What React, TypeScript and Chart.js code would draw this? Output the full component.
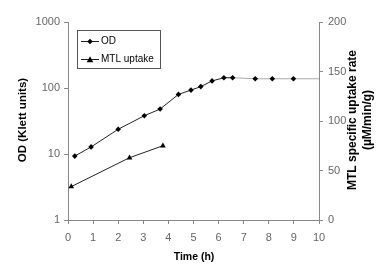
import React, { useEffect, useRef } from "react";
import { Chart, registerables } from "chart.js";

Chart.register(...registerables);

const odTime = [0.27, 0.92, 2.0, 3.04, 3.67, 4.4, 4.9, 5.29, 5.74, 6.21, 6.56, 7.46, 8.14, 8.98, 10];
const odValue = [9.3, 12.8, 23.7, 38, 48, 80, 93, 105, 128, 143, 143, 138, 138, 138, 138];
const mtlTime = [0.13, 2.45, 3.78];
const mtlValue = [33.7, 62.9, 75];
const xTicks = [0, 1, 2, 3, 4, 5, 6, 7, 8, 9, 10];
const odTicks = [1, 10, 100, 1000];
const mtlTicks = [0, 50, 100, 150, 200];

const FONT = "'Liberation Sans', Arial, sans-serif";

function drawMarker(ctx: CanvasRenderingContext2D, style: string, x: number, y: number, r: number) {
  ctx.beginPath();
  if (style === "rectRot") {
    ctx.moveTo(x, y - r);
    ctx.lineTo(x + r, y);
    ctx.lineTo(x, y + r);
    ctx.lineTo(x - r, y);
  } else {
    ctx.moveTo(x, y - r);
    ctx.lineTo(x + r, y + r * 0.8);
    ctx.lineTo(x - r, y + r * 0.8);
  }
  ctx.closePath();
  ctx.fill();
}

const overlayPlugin = {
  id: "overlay",
  afterDraw(chart: any) {
    const ctx = chart.ctx as CanvasRenderingContext2D;
    ctx.save();
    ctx.fillStyle = "#000";
    ctx.textAlign = "center";
    ctx.textBaseline = "middle";
    ctx.font = `bold 10.5px ${FONT}`;
    ctx.fillText("Time (h)", 194, 257);

    ctx.save();
    ctx.translate(23, 120);
    ctx.rotate(-Math.PI / 2);
    ctx.font = `bold 11.5px ${FONT}`;
    ctx.fillText("OD (Klett units)", 0, 0);
    ctx.restore();

    ctx.save();
    ctx.translate(353, 120);
    ctx.rotate(-Math.PI / 2);
    ctx.font = `bold 12px ${FONT}`;
    ctx.fillText("MTL specific uptake rate", 0, 0);
    ctx.fillText("(\u00b5M/min/g)", 0, 15);
    ctx.restore();

    const bx = 77, by = 30, bw = 83, bh = 38;
    ctx.fillStyle = "#fff";
    ctx.fillRect(bx, by, bw, bh);
    ctx.strokeStyle = "#555";
    ctx.lineWidth = 1;
    ctx.strokeRect(bx + 0.5, by + 0.5, bw, bh);
    const entries = [
      { label: "OD", y: 41.5, style: "rectRot", r: 2.8 },
      { label: "MTL uptake", y: 59.5, style: "triangle", r: 3.3 },
    ];
    entries.forEach((e) => {
      ctx.strokeStyle = "#222";
      ctx.beginPath();
      ctx.moveTo(81, e.y);
      ctx.lineTo(99, e.y);
      ctx.stroke();
      ctx.fillStyle = "#000";
      drawMarker(ctx, e.style, 90, e.y, e.r);
      ctx.fillStyle = "#000";
      ctx.textAlign = "left";
      ctx.textBaseline = "middle";
      ctx.font = `10px ${FONT}`;
      ctx.fillText(e.label, 101, e.y);
    });
    ctx.restore();
  },
};

export default function App() {
  const ref = useRef<HTMLCanvasElement>(null);
  useEffect(() => {
    if (!ref.current) return;
    const tickFont = { family: FONT, size: 11 };
    const grid = { drawOnChartArea: false, drawTicks: true, tickLength: 4, color: "#888" };
    const border = { color: "#888", width: 1 };
    const chart = new Chart(ref.current, {
      type: "line",
      data: {
        datasets: [
          {
            label: "OD",
            data: odTime.map((t, i) => ({ x: t, y: odValue[i] })),
            yAxisID: "y",
            borderColor: "#222",
            backgroundColor: "#000",
            borderWidth: 1,
            pointStyle: "rectRot",
            pointRadius: odTime.map((t) => (t >= 10 ? 0 : 2.8)),
            pointBorderWidth: 0,
            segment: {
              borderColor: (c: any) => (c.p0.parsed.x >= 6.5 ? "#aaa" : "#222"),
            },
          },
          {
            label: "MTL uptake",
            data: mtlTime.map((t, i) => ({ x: t, y: mtlValue[i] })),
            yAxisID: "y2",
            borderColor: "#222",
            backgroundColor: "#000",
            borderWidth: 1,
            pointStyle: "triangle",
            pointRadius: 3.3,
            pointBorderWidth: 0,
          },
        ],
      },
      options: {
        animation: false,
        responsive: false,
        layout: { padding: { top: 22, left: 0, right: 0, bottom: 0 } },
        plugins: { legend: { display: false }, tooltip: { enabled: false } },
        scales: {
          x: {
            type: "linear",
            min: 0,
            max: 10,
            afterBuildTicks: (s: any) => {
              s.ticks = xTicks.map((v) => ({ value: v }));
            },
            afterFit: (s: any) => {
              s.height = 53;
            },
            ticks: { font: tickFont, color: "#666", padding: 7, maxRotation: 0, autoSkip: false },
            grid,
            border,
          },
          y: {
            type: "logarithmic",
            position: "left",
            min: 1,
            max: 1000,
            afterBuildTicks: (s: any) => {
              s.ticks = odTicks.map((v) => ({ value: v }));
            },
            afterFit: (s: any) => {
              s.width = 68;
            },
            ticks: { font: tickFont, color: "#666", padding: 4, callback: (v: any) => String(v) },
            grid,
            border,
          },
          y2: {
            type: "linear",
            position: "right",
            min: 0,
            max: 200,
            afterBuildTicks: (s: any) => {
              s.ticks = mtlTicks.map((v) => ({ value: v }));
            },
            afterFit: (s: any) => {
              s.width = 63;
            },
            ticks: { font: tickFont, color: "#666", padding: 5 },
            grid,
            border,
          },
        },
      },
      plugins: [overlayPlugin],
    } as any);
    return () => chart.destroy();
  }, []);
  return (
    <div style={{ position: "fixed", left: 0, top: 0, width: 382, height: 273, background: "#fff" }}>
      <canvas ref={ref} width={382} height={273} style={{ width: 382, height: 273 }} />
    </div>
  );
}
